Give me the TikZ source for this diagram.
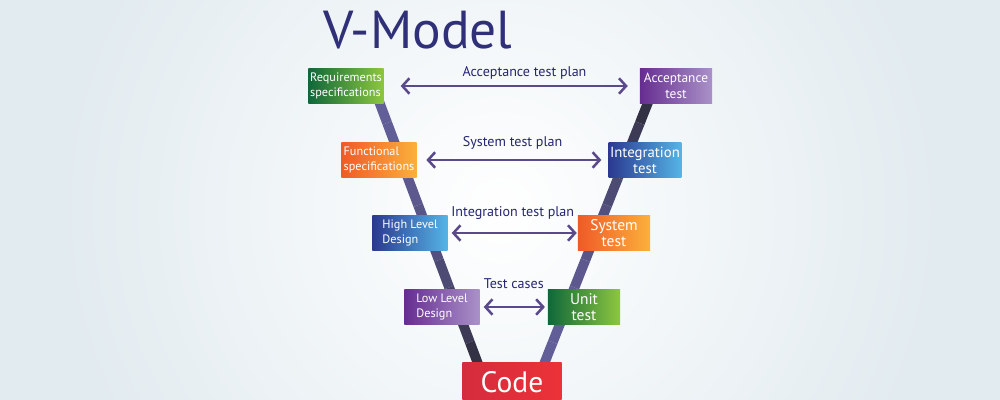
\documentclass[tikz,border=0pt]{standalone}
\usepackage{fontspec}
\setmainfont{PT Sans}
\usetikzlibrary{arrows.meta, calc, backgrounds}

\definecolor{bgout}{RGB}{226,235,240}
\definecolor{grnD}{RGB}{16,104,58}
\definecolor{grnL}{RGB}{141,198,63}
\definecolor{purD}{RGB}{102,45,145}
\definecolor{purL}{RGB}{170,145,200}
\definecolor{orgD}{RGB}{240,90,40}
\definecolor{orgL}{RGB}{251,176,59}
\definecolor{bluD}{RGB}{43,57,144}
\definecolor{bluL}{RGB}{85,180,230}
\definecolor{redD}{RGB}{212,44,62}
\definecolor{redL}{RGB}{236,50,56}
\definecolor{armlight}{RGB}{98,94,152}
\definecolor{armdark}{RGB}{40,38,48}
\definecolor{arrcol}{RGB}{90,74,140}
\definecolor{lblcol}{RGB}{38,38,115}
\definecolor{titlecol}{RGB}{48,48,120}

\begin{document}
\begin{tikzpicture}[x=0.025cm, y=-0.025cm,
  box/.style 2 args={left color=#1, right color=#2, text=white, align=left,
    minimum width=1.875cm, minimum height=0.86cm, inner sep=1pt,
    font=\fontsize{8.7}{10.3}\selectfont},
  tbox/.style 2 args={box={#1}{#2}, align=center, minimum width=1.8cm,
    minimum height=0.87cm, font=\fontsize{11}{11.5}\selectfont},
  arr/.style={{Straight Barb[length=5pt,width=11pt]}-{Straight Barb[length=5pt,width=11pt]},
    line width=1.8pt, draw=arrcol},
  lbl/.style={font=\fontsize{10}{11}\selectfont, text=lblcol},
  arm/.style={line width=7pt}
]
\useasboundingbox (0,0) rectangle (1000,400);

% Title
\node[font=\fontsize{38}{42}\selectfont, text=titlecol] (title) at (418,30) {V-Model};

% Left side of the V
\node[box={grnD}{grnL}] (req) at (346,86) {Requirements\\specifications};
\node[box={orgD}{orgL}] (func) at (379,160) {Functional\\specifications};
\node[box={bluD}{bluL}] (hld) at (410,233) {High Level\\Design};
\node[box={purD}{purL}] (lld) at (442,307) {Low Level\\Design};

% Right side of the V
\node[tbox={purD}{purL}, font=\fontsize{9.5}{11}\selectfont] (acc) at (676,86) {Acceptance\\test};
\node[tbox={bluD}{bluL}, font=\fontsize{10.5}{11.5}\selectfont] (integ) at (645,160) {Integration\\test};
\node[tbox={orgD}{orgL}] (sys) at (614,233) {System\\test};
\node[tbox={grnD}{grnL}] (unit) at (584,307) {Unit\\test};

% Bottom
\node[left color=redD, right color=redL, text=white, minimum width=2.475cm,
  minimum height=0.95cm, font=\fontsize{21}{22}\selectfont] (code) at (512,382) {Code};

% Test plans
\draw[arr, shorten <=12pt, shorten >=8.5pt] (req) -- (acc)
  node[lbl, pos=0.55, above=0.5pt] {Acceptance test plan};
\draw[arr, shorten <=6.8pt, shorten >=5pt] (func) -- (integ)
  node[lbl, midway, above=3pt] {System test plan};
\draw[arr, shorten <=2.8pt, shorten >=0.7pt] (hld) -- (sys)
  node[lbl, midway, above=5.5pt] {Integration test plan};
\draw[arr, shorten <=2.8pt, shorten >=2pt] (lld) -- (unit)
  node[lbl, midway, above=8.5pt] {Test cases};

% Background and the two arms of the V
\begin{scope}[on background layer]
  \fill[bgout] (0,0) rectangle (1000,400);
  \shade[inner color=white, outer color=bgout] (500,210) circle (440);
  \coordinate (la) at ($(req.south east)+(-7,-8)$);
  \coordinate (lb) at ($(code.north west)+(18,7)$);
  \coordinate (ra) at ($(acc.south west)+(11,-8)$);
  \coordinate (rb) at ($(code.north east)+(-20,7)$);
  \foreach \i [evaluate=\i as \p using int(\i*\i)] in {0,...,9}
    \draw[arm, draw=armdark!\p!armlight] ($(la)!\i/10!(lb)$) -- ($(la)!{(\i+1)/10}!(lb)$);
  \foreach \i [evaluate=\i as \p using int((9-\i)*(9-\i))] in {0,...,9}
    \draw[arm, draw=armdark!\p!armlight] ($(ra)!\i/10!(rb)$) -- ($(ra)!{(\i+1)/10}!(rb)$);
\end{scope}
\end{tikzpicture}
\end{document}
